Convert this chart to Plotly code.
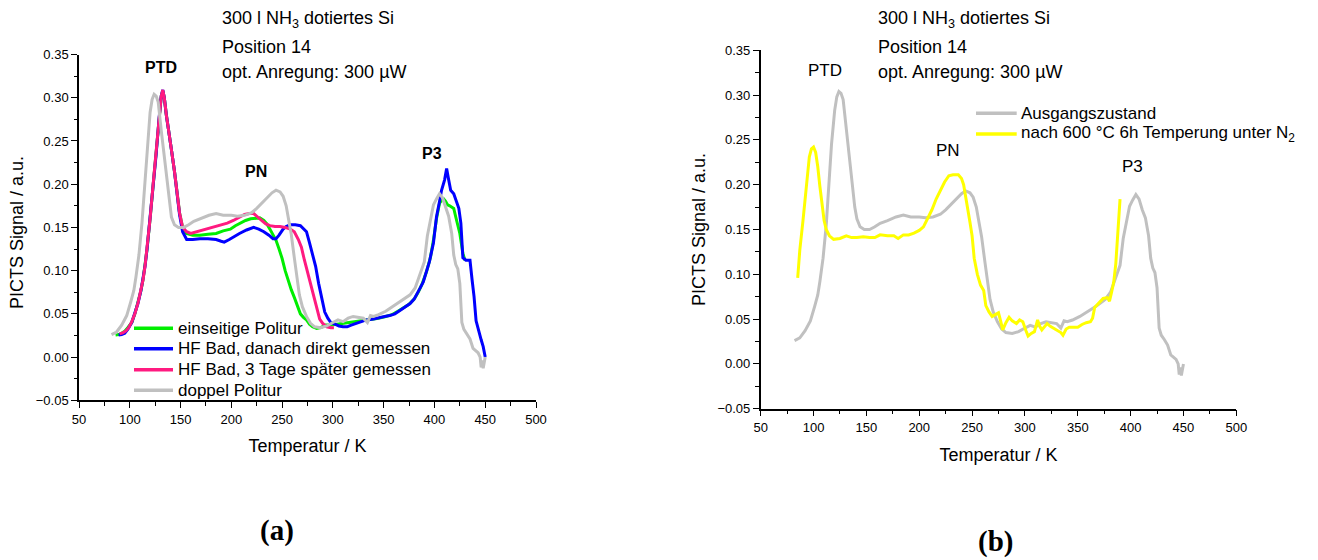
import plotly.graph_objects as go

# ---- PICTS spectra, 300 l NH3 doped Si, position 14 ----
# doppel Politur / Ausgangszustand (same measurement in both panels)
T_gray = [82, 87, 92, 97, 101, 104, 106, 109, 112, 115,
          117, 120, 122, 124, 126, 128, 131, 134, 136, 139,
          141, 144, 148, 153, 158, 163, 170, 178, 185, 192,
          200, 206, 213, 220, 225, 230, 235, 240, 244, 248,
          251, 254, 257, 259, 262, 264, 267, 270, 274, 278,
          282, 288, 294, 300, 305, 310, 315, 320, 325, 330,
          334, 337, 340, 345, 352, 360, 368, 376, 381, 384,
          387, 390, 393, 396, 399, 402, 405, 408, 411, 414,
          417, 419, 421, 423, 425, 427, 429, 432, 435, 438,
          441, 443, 445, 446, 447, 448, 450]
S_gray = [0.026, 0.029, 0.037, 0.048, 0.064, 0.077, 0.092, 0.118, 0.155, 0.205,
          0.245, 0.283, 0.298, 0.304, 0.302, 0.295, 0.262, 0.232, 0.205, 0.175,
          0.162, 0.153, 0.150, 0.150, 0.153, 0.157, 0.160, 0.164, 0.166, 0.164,
          0.164, 0.163, 0.164, 0.167, 0.172, 0.178, 0.184, 0.190, 0.193, 0.191,
          0.186, 0.175, 0.155, 0.142, 0.115, 0.095, 0.072, 0.058, 0.047, 0.039,
          0.035, 0.034, 0.036, 0.040, 0.043, 0.041, 0.045, 0.047, 0.046, 0.045,
          0.040, 0.048, 0.047, 0.049, 0.053, 0.059, 0.065, 0.072, 0.080, 0.090,
          0.100, 0.110, 0.140, 0.160, 0.176, 0.183, 0.189, 0.184, 0.172, 0.163,
          0.143, 0.118, 0.107, 0.102, 0.085, 0.040, 0.032, 0.027, 0.021, 0.010,
          0.007, 0.005, 0.000, -0.012, -0.004, -0.013, 0.000]

# einseitige Politur
T_green = [86, 89, 92, 95, 98, 102, 105, 108, 111, 113,
           115, 117, 120, 123, 126, 129, 131, 132.5, 134, 136,
           139, 141, 144, 146, 149, 152, 156, 162, 169, 177,
           185, 192, 199, 204, 209, 214, 219, 224, 228, 232,
           235, 238, 241, 244, 247, 250, 253, 256, 259, 262,
           265, 268, 271, 274, 277, 280, 284, 288, 293, 298,
           304, 310, 317, 324, 331, 338, 345, 352, 358, 364,
           370, 375, 380, 384, 388, 392, 396, 399, 402, 405,
           407, 409, 411, 413, 415, 417, 419, 421, 423, 425,
           428, 430]
S_green = [0.0255, 0.026, 0.0275, 0.030, 0.034, 0.040, 0.050, 0.062, 0.077, 0.089,
           0.105, 0.125, 0.160, 0.200, 0.235, 0.278, 0.302, 0.308, 0.300, 0.280,
           0.258, 0.240, 0.215, 0.197, 0.167, 0.150, 0.143, 0.141, 0.141, 0.142,
           0.143, 0.146, 0.148, 0.152, 0.155, 0.158, 0.160, 0.161, 0.161, 0.158,
           0.154, 0.148, 0.142, 0.135, 0.125, 0.114, 0.100, 0.088, 0.078, 0.069,
           0.060, 0.050, 0.046, 0.043, 0.038, 0.035, 0.033, 0.034, 0.037, 0.037,
           0.038, 0.039, 0.041, 0.042, 0.043, 0.044, 0.045, 0.047, 0.049, 0.053,
           0.057, 0.061, 0.067, 0.075, 0.085, 0.098, 0.115, 0.135, 0.160, 0.178,
           0.181, 0.183, 0.180, 0.176, 0.175, 0.173, 0.172, 0.162, 0.152, 0.143,
           0.120, 0.112]

# HF Bad, danach direkt gemessen
T_blue = [89, 92, 95, 98, 102, 105, 108, 111, 113, 115,
          117, 120, 123, 126, 129, 131, 132.5, 134, 136, 139,
          141, 144, 146, 149, 152, 156, 162, 169, 177, 185,
          190, 193, 198, 202, 208, 215, 222, 227, 232, 237,
          241, 244, 247, 251, 254, 258, 263, 268, 271, 274,
          277, 280, 283, 286, 289, 292, 295, 298, 302, 306,
          310, 314, 318, 323, 328, 333, 340, 346, 351, 356,
          361, 366, 371, 376, 380, 383, 386, 389, 392, 395,
          399, 402, 405, 407, 410, 412, 414, 416, 419, 422,
          424, 426, 428, 431, 435, 437, 439, 441, 443, 446,
          448, 450]
S_blue = [0.0255, 0.026, 0.0275, 0.032, 0.040, 0.050, 0.062, 0.077, 0.089, 0.105,
          0.125, 0.160, 0.200, 0.235, 0.278, 0.302, 0.309, 0.300, 0.280, 0.258,
          0.240, 0.215, 0.197, 0.165, 0.145, 0.136, 0.136, 0.137, 0.137, 0.136,
          0.134, 0.133, 0.136, 0.139, 0.143, 0.147, 0.150, 0.148, 0.145, 0.141,
          0.137, 0.137, 0.141, 0.148, 0.151, 0.153, 0.153, 0.152, 0.148, 0.145,
          0.132, 0.120, 0.105, 0.085, 0.068, 0.052, 0.045, 0.040, 0.038, 0.036,
          0.035, 0.035, 0.037, 0.039, 0.041, 0.043, 0.044, 0.046, 0.047, 0.048,
          0.050, 0.054, 0.058, 0.062, 0.067, 0.073, 0.080, 0.087, 0.098, 0.110,
          0.132, 0.162, 0.180, 0.193, 0.205, 0.218, 0.205, 0.193, 0.189, 0.180,
          0.172, 0.155, 0.115, 0.112, 0.112, 0.090, 0.070, 0.042, 0.032, 0.020,
          0.012, 0.000]

# HF Bad, 3 Tage später gemessen
T_pink = [90, 93, 96, 99, 102, 105, 108, 111, 113, 115,
          117, 120, 123, 126, 129, 131, 132.5, 134, 136, 139,
          141, 144, 146, 149, 152, 156, 160, 166, 172, 178,
          184, 190, 196, 202, 208, 213, 218, 222, 226, 230,
          234, 238, 243, 248, 253, 258, 262, 266, 269, 272,
          275, 278, 281, 284, 287, 290, 294, 298, 301]
S_pink = [0.027, 0.028, 0.030, 0.034, 0.041, 0.050, 0.062, 0.077, 0.089, 0.105,
          0.125, 0.160, 0.200, 0.235, 0.278, 0.302, 0.309, 0.300, 0.280, 0.258,
          0.240, 0.215, 0.197, 0.167, 0.150, 0.145, 0.143, 0.145, 0.147, 0.149,
          0.151, 0.153, 0.155, 0.158, 0.162, 0.165, 0.166, 0.166, 0.162, 0.158,
          0.154, 0.152, 0.151, 0.151, 0.150, 0.148, 0.145, 0.136, 0.127, 0.112,
          0.098, 0.087, 0.070, 0.058, 0.044, 0.039, 0.035, 0.034, 0.034]

# nach 600 °C 6h Temperung unter N2
T_yellow = [85, 87, 90, 92, 94, 96, 98, 100, 102, 104,
            106, 108, 110, 112, 115, 119, 125, 131, 136, 141,
            147, 153, 158, 163, 170, 176, 180, 185, 190, 195,
            200, 204, 208, 212, 216, 220, 224, 228, 232, 237,
            240, 242, 244, 246, 248, 250, 252, 255, 258, 261,
            263, 266, 269, 272, 275, 277, 279, 282, 285, 288,
            292, 295, 298, 301, 303, 306, 309, 312, 314, 316,
            319, 321, 324, 327, 331, 334, 336, 339, 342, 346,
            350, 354, 358, 362, 364, 366, 370, 374, 378, 380,
            382, 384, 386, 388, 390]
S_yellow = [0.096, 0.127, 0.160, 0.183, 0.210, 0.231, 0.240, 0.242, 0.236, 0.220,
            0.198, 0.175, 0.160, 0.150, 0.143, 0.139, 0.140, 0.143, 0.141, 0.141,
            0.142, 0.141, 0.141, 0.144, 0.143, 0.143, 0.140, 0.144, 0.144, 0.146,
            0.149, 0.153, 0.162, 0.172, 0.184, 0.194, 0.203, 0.210, 0.211, 0.211,
            0.207, 0.200, 0.188, 0.172, 0.158, 0.143, 0.118, 0.100, 0.088, 0.082,
            0.065, 0.058, 0.053, 0.055, 0.057, 0.048, 0.038, 0.046, 0.052, 0.048,
            0.045, 0.049, 0.047, 0.037, 0.031, 0.034, 0.036, 0.049, 0.042, 0.038,
            0.043, 0.045, 0.042, 0.040, 0.037, 0.035, 0.032, 0.039, 0.041, 0.041,
            0.041, 0.044, 0.046, 0.047, 0.051, 0.063, 0.068, 0.073, 0.074, 0.070,
            0.080, 0.091, 0.112, 0.145, 0.184]

names_a = ["einseitige Politur", "HF Bad, danach direkt gemessen",
           "HF Bad, 3 Tage später gemessen", "doppel Politur"]
names_b = ["Ausgangszustand", "nach 600 °C 6h Temperung unter N<sub>2</sub>"]
colors_a = ["#00ee00", "#0000ff", "#ff1a80", "#c0c0c0"]
colors_b = ["#c0c0c0", "#ffff00"]

FONT = "Liberation Sans, Arial, sans-serif"
W, H = 1318, 560

fig = go.Figure()

for t, s, c, n in zip([T_green, T_blue, T_pink, T_gray],
                      [S_green, S_blue, S_pink, S_gray], colors_a, names_a):
    fig.add_trace(go.Scatter(x=t, y=s, mode="lines", name=n,
                             line=dict(color=c, width=3),
                             xaxis="x", yaxis="y", showlegend=False))

for t, s, c, n in zip([T_gray, T_yellow], [S_gray, S_yellow], colors_b, names_b):
    fig.add_trace(go.Scatter(x=t, y=s, mode="lines", name=n,
                             line=dict(color=c, width=3),
                             xaxis="x2", yaxis="y2", showlegend=False))


def xax(domain, anchor):
    return dict(domain=domain, anchor=anchor, range=[50, 500], tick0=50, dtick=50,
                ticks="outside", ticklen=6, tickwidth=1.3, tickcolor="black",
                showline=True, linewidth=1.5, linecolor="black",
                showgrid=False, zeroline=False, automargin=False,
                tickfont=dict(family=FONT, size=13, color="black"),
                minor=dict(ticks="outside", dtick=25, tick0=50, ticklen=3.5,
                           tickwidth=1.2, tickcolor="black", showgrid=False),
                title=dict(text="Temperatur / K", standoff=14,
                           font=dict(family=FONT, size=18, color="black")))


def yax(domain, anchor):
    return dict(domain=domain, anchor=anchor, range=[-0.05, 0.35], tick0=0,
                dtick=0.05, tickformat=".2f",
                ticks="outside", ticklen=6, tickwidth=1.3, tickcolor="black",
                showline=True, linewidth=1.5, linecolor="black",
                showgrid=False, zeroline=False, automargin=False,
                tickfont=dict(family=FONT, size=13, color="black"),
                minor=dict(ticks="outside", dtick=0.025, tick0=0, ticklen=3.5,
                           tickwidth=1.2, tickcolor="black", showgrid=False))


annots = []
shapes = []

# y-axis titles
for px, py in ((17, 233), (699, 230)):
    annots.append(dict(text="PICTS Signal / a.u.", xref="paper", yref="paper",
                       x=px / W, y=1 - py / H, textangle=-90, showarrow=False,
                       xanchor="center", yanchor="middle",
                       font=dict(family=FONT, size=18, color="black")))

# sample description above each panel
header = ["300 l NH<sub>3</sub> dotiertes Si", "Position 14",
          "opt. Anregung: 300 µW"]
header_y = [20, 47, 72]
for x0 in (220, 876):
    for txt, yy in zip(header, header_y):
        annots.append(dict(text=txt, xref="paper", yref="paper",
                           x=x0 / W, y=1 - yy / H, xanchor="left",
                           yanchor="middle", showarrow=False,
                           font=dict(family=FONT, size=18, color="black")))

# peak labels
peaks_a = [("PTD", 130.5, 0.3347), ("PN", 224.3, 0.2152), ("P3", 397.6, 0.2357)]
for txt, tx, sy in peaks_a:
    annots.append(dict(text="<b>" + txt + "</b>", xref="x", yref="y", x=tx, y=sy,
                       showarrow=False, xanchor="center", yanchor="middle",
                       font=dict(family=FONT, size=16, color="black")))
peaks_b = [("PTD", 111.1, 0.3272), ("PN", 226.9, 0.238), ("P3", 401.6, 0.220)]
for txt, tx, sy in peaks_b:
    annots.append(dict(text=txt, xref="x2", yref="y2", x=tx, y=sy,
                       showarrow=False, xanchor="center", yanchor="middle",
                       font=dict(family=FONT, size=17, color="black")))

# legends: line sample + label per series
def legend(x_line0, x_line1, x_text, rows_y, names, colors):
    for yy, n, c in zip(rows_y, names, colors):
        shapes.append(dict(type="line", xref="paper", yref="paper",
                           x0=x_line0 / W, x1=x_line1 / W,
                           y0=1 - yy / H, y1=1 - yy / H,
                           line=dict(color=c, width=3.5)))
        annots.append(dict(text=n, xref="paper", yref="paper",
                           x=x_text / W, y=1 - yy / H, xanchor="left",
                           yanchor="middle", showarrow=False,
                           font=dict(family=FONT, size=17, color="black")))


legend(134, 173, 176, [328.3, 348.7, 369.7, 390.3], names_a, colors_a)
legend(976, 1016.7, 1019, [113.3, 134], names_b, colors_b)

for txt, px, py in (("(a)", 276.7, 530), ("(b)", 995, 541.7)):
    annots.append(dict(text="<b>" + txt + "</b>", xref="paper", yref="paper",
                       x=px / W, y=1 - py / H, showarrow=False,
                       xanchor="center", yanchor="middle",
                       font=dict(family="Liberation Serif, Times New Roman, serif",
                                 size=29, color="black")))

fig.update_layout(
    width=W, height=H, margin=dict(l=0, r=0, t=0, b=0),
    paper_bgcolor="white", plot_bgcolor="white", template="none",
    font=dict(family=FONT, color="black"),
    xaxis=xax([79 / W, 536 / W], "y"),
    yaxis=yax([1 - 400.3 / H, 1 - 54.5 / H], "x"),
    xaxis2=xax([760.7 / W, 1236.3 / W], "y2"),
    yaxis2=yax([1 - 408.7 / H, 1 - 50.3 / H], "x2"),
    annotations=annots, shapes=shapes, showlegend=False,
)

fig.write_html("out.html")
